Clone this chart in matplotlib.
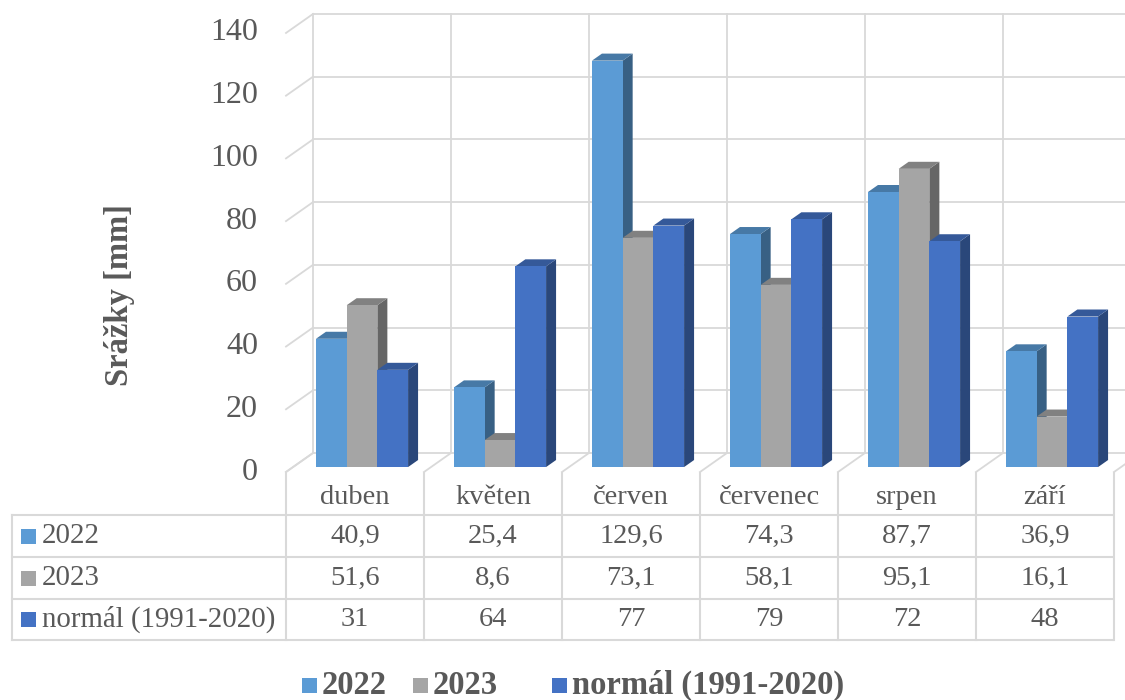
import numpy as np
import matplotlib
matplotlib.use("Agg")
import matplotlib.pyplot as plt
from matplotlib.patches import Polygon, Rectangle
from matplotlib.lines import Line2D

months = ["duben", "květen", "červen", "červenec", "srpen", "září"]
series_names = ["2022", "2023", "normál (1991-2020)"]
rain_2022 = [40.9, 25.4, 129.6, 74.3, 87.7, 36.9]
rain_2023 = [51.6, 8.6, 73.1, 58.1, 95.1, 16.1]
rain_normal = [31, 64, 77, 79, 72, 48]
y_ticks = [0, 20, 40, 60, 80, 100, 120, 140]

colors = ["#5B9BD5", "#A5A5A5", "#4472C4"]
grid_c = "#D9D9D9"
text_c = "#595959"
plt.rcParams["font.family"] = ["Liberation Serif", "DejaVu Serif"]

W, H = 1125, 700
fig = plt.figure(figsize=(W / 100, H / 100), dpi=100)
ax = fig.add_axes([0, 0, 1, 1])
ax.set_axis_off()

# one category = 138 px, 1 mm = 3.136 px; front floor starts at (286, 472)
CAT_PX, MM_PX, X0, Y0 = 138.0, 3.136, 286.0, 472.0
ax.set_xlim(-X0 / CAT_PX, (W - X0) / CAT_PX)
ax.set_ylim(-(H - Y0) / MM_PX, Y0 / MM_PX)

DX, DY = 27 / CAT_PX, 19 / MM_PX        # depth of the floor
F0, FD = 0.26, 0.37                      # bar position / thickness in depth
n = len(months)

def fx(px):
    return px / W

def fy(py):
    return 1 - py / H

# back wall and side wall
for v in y_ticks:
    ax.plot([DX, n + DX + 1], [v + DY, v + DY], color=grid_c, lw=1.3, zorder=1)
    ax.plot([0, DX], [v, v + DY], color=grid_c, lw=1.3, zorder=1)
    ax.text(-28 / CAT_PX, v, str(v), ha="right", va="center",
            fontsize=23, color=text_c)
for i in range(n + 1):
    ax.plot([i + DX, i + DX], [DY, y_ticks[-1] + DY], color=grid_c, lw=1.3, zorder=1)
    ax.plot([i, i + DX], [0, DY], color=grid_c, lw=1.3, zorder=1)

# 3d columns
def shade(c, k):
    r, g, b = matplotlib.colors.to_rgb(c)
    return (r * k, g * k, b * k)

bw = 0.2225
gap = (1 - 3 * bw) / 2
base = F0 * DY
bdx, bdy = FD * DX, FD * DY
for i in range(n):
    for j, vals in enumerate([rain_2022, rain_2023, rain_normal]):
        v = vals[i]
        xl = i + gap + j * bw + F0 * DX
        xr = xl + bw
        top = base + v
        ax.add_patch(Polygon([(xr, base), (xr, top), (xr + bdx, top + bdy),
                              (xr + bdx, base + bdy)], closed=True,
                             fc=shade(colors[j], 0.62), ec="none", zorder=3))
        ax.add_patch(Polygon([(xl, top), (xr, top), (xr + bdx, top + bdy),
                              (xl + bdx, top + bdy)], closed=True,
                             fc=shade(colors[j], 0.78), ec="none", zorder=3))
        ax.bar(xl, v, width=bw, bottom=base, align="edge", color=colors[j],
               lw=0, zorder=3)

ax.text(-166 / CAT_PX, 56.4, "Srážky [mm]", rotation=90, ha="center", va="center",
        fontsize=23.5, fontweight="bold", color=text_c)

# data table
rows_y = [515, 557, 599, 640]
for py in rows_y:
    fig.add_artist(Line2D([fx(12), fx(1113)], [fy(py), fy(py)], color=grid_c, lw=1.5))
fig.add_artist(Line2D([fx(12), fx(12)], [fy(515), fy(640)], color=grid_c, lw=1.5))
for i in range(n + 1):
    px = X0 + i * CAT_PX
    fig.add_artist(Line2D([fx(px), fx(px)], [fy(473), fy(640)], color=grid_c, lw=1.5))

def fmt(v):
    return str(v).replace(".", ",")

for i, m in enumerate(months):
    cx = X0 + (i + 0.5) * CAT_PX
    fig.text(fx(cx), fy(497), m, ha="center", va="center", fontsize=20.5, color=text_c)
    for r, vals in enumerate([rain_2022, rain_2023, rain_normal]):
        cy = (rows_y[r] + rows_y[r + 1]) / 2
        fig.text(fx(cx), fy(cy), fmt(vals[i]), ha="center", va="center",
                 fontsize=20.5, color=text_c)
for r, name in enumerate(series_names):
    cy = (rows_y[r] + rows_y[r + 1]) / 2
    fig.add_artist(Rectangle((fx(21), fy(cy + 7.5)), fx(15), 15 / H,
                             color=colors[r], lw=0))
    fig.text(fx(42), fy(cy), name, ha="left", va="center", fontsize=20.8, color=text_c)

# legend
leg_x = [302, 413, 552]
for r, name in enumerate(series_names):
    fig.add_artist(Rectangle((fx(leg_x[r]), fy(685 + 7.5)), fx(15), 15 / H,
                             color=colors[r], lw=0))
    fig.text(fx(leg_x[r] + 20), fy(685), name, ha="left", va="center",
             fontsize=23.5, fontweight="bold", color=text_c)

fig.savefig("out.png", dpi=100)
